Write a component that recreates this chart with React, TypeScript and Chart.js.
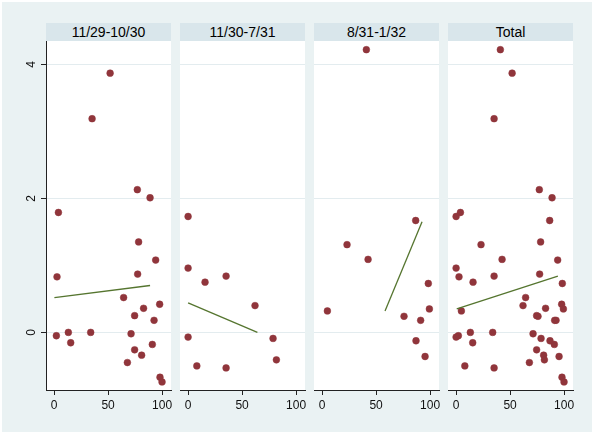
import React, { useEffect, useRef } from "react";
import { Chart, registerables } from "chart.js";
Chart.register(...registerables);

// ---- data ----
const panelTitles = ["11/29-10/30", "11/30-7/31", "8/31-1/32", "Total"];

const p1X = [51.9, 35.2, 77.1, 88.9, 4.0, 78.3, 94.1, 2.7, 77.4, 64.4, 97.8, 82.9, 74.6, 92.6, 2.1, 13.2, 33.9, 71.3, 15.4, 91.0, 74.6, 81.1, 67.9, 98.1, 100.0];
const p1Y = [3.87, 3.19, 2.13, 2.01, 1.79, 1.35, 1.08, 0.83, 0.87, 0.52, 0.42, 0.36, 0.25, 0.18, -0.05, 0.0, 0.0, -0.02, -0.155, -0.18, -0.26, -0.34, -0.45, -0.67, -0.74];

const p2X = [0, 0, 15.7, 35.2, 62.0, 0, 78.7, 8.1, 35.2, 81.8];
const p2Y = [1.73, 0.96, 0.75, 0.84, 0.40, -0.07, -0.09, -0.50, -0.53, -0.41];

const p3X = [41.0, 86.7, 23.1, 42.6, 4.9, 98.4, 99.4, 75.9, 91.3, 87.0, 95.4];
const p3Y = [4.22, 1.67, 1.31, 1.09, 0.32, 0.73, 0.35, 0.24, 0.18, -0.125, -0.36];

const totalX = [...p1X, ...p2X, ...p3X];
const totalY = [...p1Y, ...p2Y, ...p3Y];

const fit1X = [0.3, 88.9];
const fit1Y = [0.52, 0.70];
const fit2X = [0, 64.2];
const fit2Y = [0.44, 0.0];
const fit3X = [58.3, 92.6];
const fit3Y = [0.32, 1.65];
const fit4X = [0.6, 94.3];
const fit4Y = [0.35, 0.84];

const xTickValues = [0, 50, 100];
const yTickValues = [0, 2, 4];

const panelX = [p1X, p2X, p3X, totalX];
const panelY = [p1Y, p2Y, p3Y, totalY];
const fitX = [fit1X, fit2X, fit3X, fit4X];
const fitY = [fit1Y, fit2Y, fit3Y, fit4Y];

// ---- layout / style ----
const PANEL_LEFT = [46, 180, 314, 448];
const PANEL_W = 125;
const PLOT_TOP = 41;
const PLOT_BOTTOM = 390;
const PAD = 14;
const CANVAS_TOP = PLOT_TOP - PAD;
const CANVAS_H = 434 - CANVAS_TOP;
const X_MIN = -7.5;
const X_MAX = 108.3;
const Y_MIN = -0.86;
const Y_MAX = 4.35;

const BG = "#EAF2F3";
const STRIP = "#D9E6EB";
const GRID = "#E3ECEF";
const MARKER = "#90353B";
const LINE = "#55752F";
const AXIS = "#222";
const FONT = "'Liberation Sans', Arial, Helvetica, sans-serif";

const plotBg = {
  id: "plotBg",
  beforeDraw(chart: any) {
    const { ctx, chartArea } = chart;
    ctx.save();
    ctx.fillStyle = "#ffffff";
    ctx.fillRect(chartArea.left, chartArea.top, chartArea.right - chartArea.left, chartArea.bottom - chartArea.top);
    ctx.restore();
  },
};

function Panel({ index }: { index: number }) {
  const ref = useRef<HTMLCanvasElement | null>(null);
  const first = index === 0;
  const canvasLeft = first ? 0 : PANEL_LEFT[index] - PAD;
  const canvasW = first ? PANEL_LEFT[0] + PANEL_W + PAD : PANEL_W + 2 * PAD;

  useEffect(() => {
    if (!ref.current) return;
    const pts = panelX[index].map((x, i) => ({ x, y: panelY[index][i] }));
    const fit = fitX[index].map((x, i) => ({ x, y: fitY[index][i] }));
    const chart = new Chart(ref.current, {
      type: "scatter",
      data: {
        datasets: [
          {
            data: fit,
            showLine: true,
            borderColor: LINE,
            borderWidth: 1.3,
            pointRadius: 0,
            fill: false,
          },
          {
            data: pts,
            showLine: false,
            pointRadius: 3.4,
            pointBackgroundColor: MARKER,
            pointBorderColor: MARKER,
            pointBorderWidth: 0.5,
          },
        ],
      },
      options: {
        animation: false,
        responsive: false,
        devicePixelRatio: 1,
        layout: { padding: { left: first ? 0 : PAD, right: PAD, top: PAD, bottom: 0 } },
        plugins: { legend: { display: false }, tooltip: { enabled: false }, title: { display: false } },
        scales: {
          x: {
            type: "linear",
            min: X_MIN,
            max: X_MAX,
            afterBuildTicks: (s: any) => {
              s.ticks = xTickValues.map((v) => ({ value: v }));
            },
            afterFit: (s: any) => {
              s.height = CANVAS_H - PAD - (PLOT_BOTTOM - PLOT_TOP);
            },
            grid: { drawOnChartArea: false, drawTicks: true, tickLength: 5, tickColor: AXIS, tickWidth: 1 },
            border: { display: true, color: AXIS, width: 1 },
            ticks: { color: "#111", font: { family: FONT, size: 12 }, padding: 3, maxRotation: 0, minRotation: 0 },
          },
          y: {
            type: "linear",
            min: Y_MIN,
            max: Y_MAX,
            afterBuildTicks: (s: any) => {
              s.ticks = yTickValues.map((v) => ({ value: v }));
            },
            afterFit: (s: any) => {
              s.width = first ? PANEL_LEFT[0] : 0;
            },
            grid: {
              color: GRID,
              lineWidth: 1,
              drawTicks: first,
              tickLength: 5,
              tickColor: AXIS,
              tickWidth: 1,
            },
            border: { display: first, color: AXIS, width: 1 },
            ticks: {
              display: first,
              color: "#111",
              font: { family: FONT, size: 12 },
              padding: 6,
              minRotation: 90,
              maxRotation: 90,
              crossAlign: "center",
            },
          },
        },
      },
      plugins: [plotBg],
    } as any);
    return () => chart.destroy();
  }, [index]);

  return (
    <>
      <div
        style={{
          position: "absolute",
          left: PANEL_LEFT[index],
          top: 23,
          width: PANEL_W,
          height: PLOT_TOP - 23,
          background: STRIP,
          fontFamily: FONT,
          fontSize: 14,
          lineHeight: `${PLOT_TOP - 23}px`,
          textAlign: "center",
          color: "#000",
        }}
      >
        {panelTitles[index]}
      </div>
      <canvas
        ref={ref}
        width={canvasW}
        height={CANVAS_H}
        style={{ position: "absolute", left: canvasLeft, top: CANVAS_TOP, width: canvasW, height: CANVAS_H }}
      />
    </>
  );
}

export default function App() {
  return (
    <div style={{ position: "absolute", left: 0, top: 0, width: 594, height: 434, background: "#fff", overflow: "hidden" }}>
      <div style={{ position: "absolute", left: 2, top: 2, width: 590, height: 430, background: BG }} />
      {[0, 1, 2, 3].map((i) => (
        <Panel key={i} index={i} />
      ))}
    </div>
  );
}
